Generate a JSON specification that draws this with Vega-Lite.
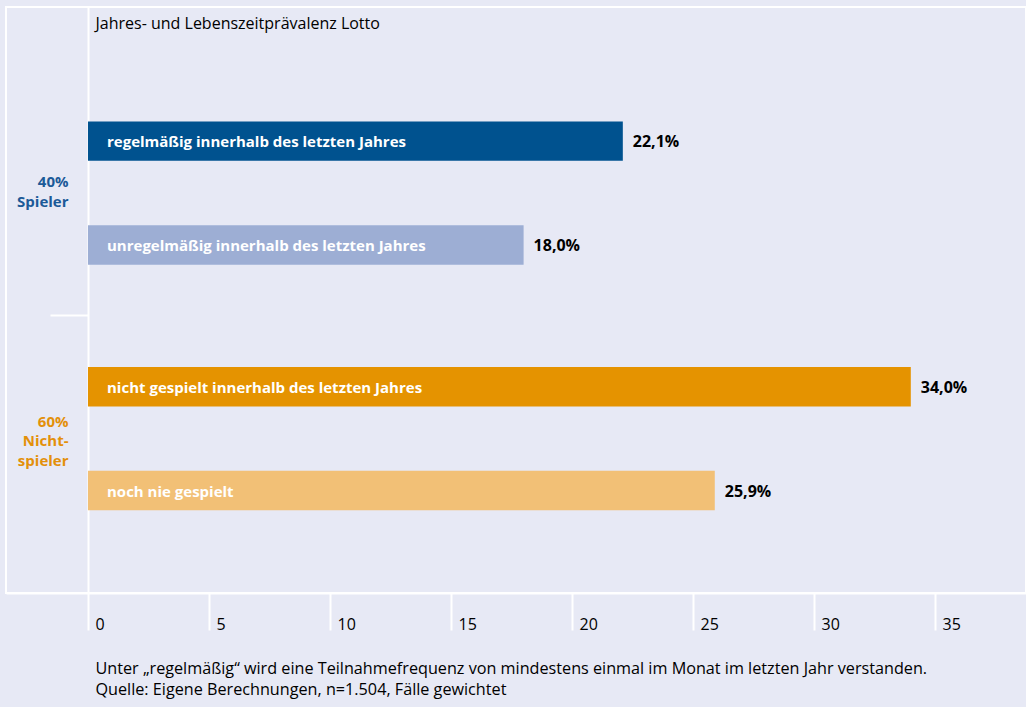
{
  "$schema": "https://vega.github.io/schema/vega-lite/v6.json",
  "autosize": {"type": "none"},
  "width": 1020,
  "height": 586,
  "padding": {"left": 6, "top": 7, "right": 0, "bottom": 114},
  "background": "#e7e9f5",
  "config": {
    "font": "Open Sans",
    "view": {"stroke": "white", "strokeWidth": 2, "fill": "#e7e9f5"},
    "text": {"font": "Open Sans"}
  },
  "data": {
    "values": [
      {"gruppe": "Spieler", "rang": 1, "kategorie": "regelmäßig innerhalb des letzten Jahres", "wert": 22.1, "label": "22,1%"},
      {"gruppe": "Spieler", "rang": 2, "kategorie": "unregelmäßig innerhalb des letzten Jahres", "wert": 18.0, "label": "18,0%"},
      {"gruppe": "Nichtspieler", "rang": 1, "kategorie": "nicht gespielt innerhalb des letzten Jahres", "wert": 34.0, "label": "34,0%"},
      {"gruppe": "Nichtspieler", "rang": 2, "kategorie": "noch nie gespielt", "wert": 25.9, "label": "25,9%"}
    ]
  },
  "encoding": {
    "y": {
      "field": "gruppe",
      "type": "nominal",
      "sort": ["Spieler", "Nichtspieler"],
      "scale": {"paddingInner": 0, "paddingOuter": 0.193, "align": 0.667},
      "axis": {
        "orient": "left",
        "offset": -82,
        "domainColor": "white",
        "domainWidth": 2,
        "tickColor": "white",
        "tickWidth": 2,
        "tickSize": 38,
        "bandPosition": 0,
        "tickOpacity": {"condition": {"test": "datum.value === 'Nichtspieler'", "value": 1}, "value": 0},
        "labelExpr": "datum.value === 'Spieler' ? ['40%', 'Spieler'] : ['60%', 'Nicht-', 'spieler']",
        "labelColor": {"condition": {"test": "datum.value === 'Spieler'", "value": "#1c5a98"}, "value": "#e3900a"},
        "labelOffset": {"condition": {"test": "datum.value === 'Spieler'", "value": -11}, "value": -17},
        "labelFont": "Open Sans",
        "labelFontSize": 15,
        "labelFontWeight": "bold",
        "labelLineHeight": 19.5,
        "labelAlign": "right",
        "labelBaseline": "middle",
        "labelPadding": -18,
        "grid": false,
        "title": "Jahres- und Lebenszeitprävalenz Lotto",
        "titleAngle": 0,
        "titleX": 7,
        "titleY": 21,
        "titleAlign": "left",
        "titleBaseline": "alphabetic",
        "titleFont": "Open Sans",
        "titleFontSize": 16,
        "titleFontWeight": "normal",
        "titleColor": "black"
      }
    },
    "yOffset": {
      "field": "rang",
      "type": "ordinal",
      "scale": {"paddingInner": 0.62, "paddingOuter": 0.493}
    },
    "x": {
      "field": "wert",
      "type": "quantitative",
      "scale": {"domain": [-3.388, 38.76], "nice": false},
      "axis": {
        "values": [0, 5, 10, 15, 20, 25, 30, 35],
        "domainColor": "white",
        "domainWidth": 2,
        "tickColor": "white",
        "tickWidth": 2,
        "tickSize": 37,
        "grid": false,
        "labelAlign": "left",
        "labelOffset": 7,
        "labelBaseline": "alphabetic",
        "labelPadding": -1,
        "labelFlush": false,
        "labelFont": "Open Sans",
        "labelFontSize": 16,
        "labelColor": "black",
        "title": ["Unter „regelmäßig“ wird eine Teilnahmefrequenz von mindestens einmal im Monat im letzten Jahr verstanden.", "Quelle: Eigene Berechnungen, n=1.504, Fälle gewichtet"],
        "titleX": 89,
        "titleY": 80,
        "titleAlign": "left",
        "titleAnchor": "start",
        "titleBaseline": "alphabetic",
        "titleLineHeight": 21,
        "titleFont": "Open Sans",
        "titleFontSize": 16.2,
        "titleFontWeight": "normal",
        "titleColor": "black"
      }
    }
  },
  "layer": [
    {
      "mark": {"type": "bar"},
      "encoding": {
        "color": {
          "field": "kategorie",
          "type": "nominal",
          "scale": {
            "domain": ["regelmäßig innerhalb des letzten Jahres", "unregelmäßig innerhalb des letzten Jahres", "nicht gespielt innerhalb des letzten Jahres", "noch nie gespielt"],
            "range": ["#00528f", "#9daed4", "#e59300", "#f2c076"]
          },
          "legend": null
        }
      }
    },
    {
      "mark": {"type": "text", "align": "left", "baseline": "middle", "dx": 19, "dy": 1, "fontSize": 15, "fontWeight": "bold", "color": "white"},
      "encoding": {
        "x": {"datum": 0},
        "text": {"field": "kategorie"}
      }
    },
    {
      "mark": {"type": "text", "align": "left", "baseline": "middle", "dx": 10, "dy": 1, "fontSize": 16, "fontWeight": "bold", "color": "black"},
      "encoding": {
        "text": {"field": "label"}
      }
    }
  ]
}
